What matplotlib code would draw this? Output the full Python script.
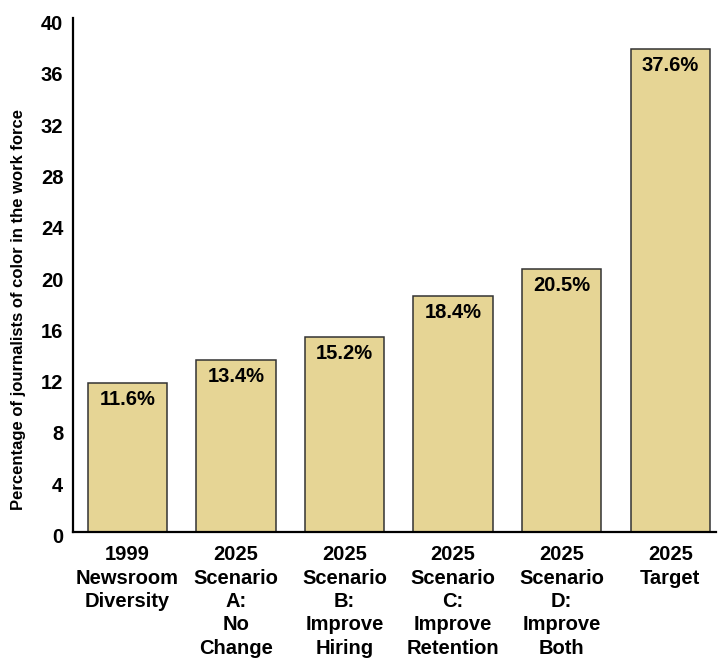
import matplotlib.pyplot as plt
from matplotlib.transforms import ScaledTranslation

categories = ['1999\nNewsroom\nDiversity', '2025\nScenario\nA:\nNo\nChange',
              '2025\nScenario\nB:\nImprove\nHiring', '2025\nScenario\nC:\nImprove\nRetention',
              '2025\nScenario\nD:\nImprove\nBoth', '2025\nTarget']
values = [11.6, 13.4, 15.2, 18.4, 20.5, 37.6]
labels = ['11.6%', '13.4%', '15.2%', '18.4%', '20.5%', '37.6%']
yticks = [0, 4, 8, 12, 16, 20, 24, 28, 32, 36, 40]

font = ['Liberation Sans Narrow', 'Liberation Sans', 'DejaVu Sans']

fig = plt.figure(figsize=(7.18, 6.58), dpi=100)
ax = fig.add_axes([0.1017, 0.1922, 0.8953, 0.7797])

x = range(len(values))
ax.bar(x, values, width=0.73, color='#e6d595', edgecolor='#333333', linewidth=1.1)

for i, v in enumerate(values):
    ax.text(i, v - 0.55, labels[i], ha='center', va='top', fontsize=14.5,
            fontweight='bold', family=font)

ax.set_xlim(-0.5, 5.42)
ax.set_ylim(0, 40)
ax.set_yticks(yticks)
ax.set_yticklabels([str(t) for t in yticks], fontsize=14.5, fontweight='bold', family=font)
ax.set_xticks(list(x))
ax.set_xticklabels(categories, fontsize=14.5, fontweight='bold', family=font, linespacing=1.29, va='top')
ax.tick_params(axis='y', length=0, pad=7)
ax.tick_params(axis='x', length=0, pad=10)
shift = ScaledTranslation(0, -4 / 100, fig.dpi_scale_trans)
for lbl in ax.get_yticklabels():
    lbl.set_transform(lbl.get_transform() + shift)

for s in ['top', 'right']:
    ax.spines[s].set_visible(False)
for s in ['left', 'bottom']:
    ax.spines[s].set_linewidth(1.6)

fig.text(18.5 / 718, 1 - 310 / 658, 'Percentage of journalists of color in the work force',
         rotation=90, ha='center', va='center', fontsize=12, fontweight='bold', family=font)

fig.savefig('out.png', dpi=100)
